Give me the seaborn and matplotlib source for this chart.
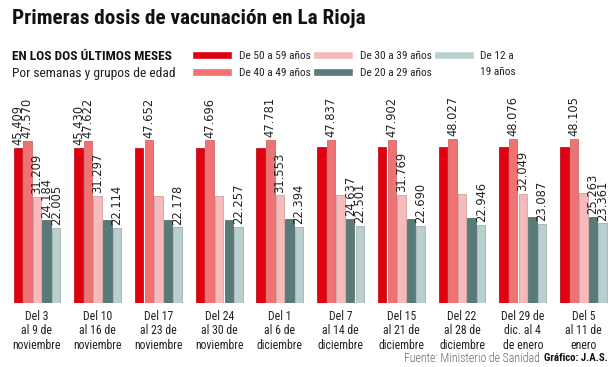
import pandas as pd
import numpy as np
import seaborn as sns
import matplotlib.pyplot as plt
import matplotlib.colors as mcolors

# datos
semanas = ['Del 3\nal 9 de\nnoviembre', 'Del 10\nal 16 de\nnoviembre', 'Del 17\nal 23 de\nnoviembre',
           'Del 24\nal 30 de\nnoviembre', 'Del 1\nal 6 de\ndiciembre', 'Del 7\nal 14 de\ndiciembre',
           'Del 15\nal 21 de\ndiciembre', 'Del 22\nal 28 de\ndiciembre', 'Del 29 de\ndic. al 4\nde enero',
           'Del 5\nal 11 de\nenero']
grupos = ['De 50 a 59 años', 'De 40 a 49 años', 'De 30 a 39 años', 'De 20 a 29 años', 'De 12 a']

edad_50_59 = [45409, 45430, 45460, 45500, 45550, 45600, 45650, 45700, 45760, 45800]
edad_40_49 = [47570, 47622, 47652, 47696, 47781, 47837, 47902, 48027, 48076, 48105]
edad_30_39 = [31209, 31297, 31400, 31460, 31553, 31650, 31769, 31900, 32049, 32150]
edad_20_29 = [24184, 24250, 24300, 24400, 24500, 24637, 24750, 24900, 25100, 25263]
edad_12_19 = [22005, 22114, 22178, 22257, 22394, 22501, 22690, 22946, 23087, 23361]

# que barras llevan etiqueta
etiq_50_59 = [1, 1, 0, 0, 0, 0, 0, 0, 0, 0]
etiq_40_49 = [1, 1, 1, 1, 1, 1, 1, 1, 1, 1]
etiq_30_39 = [1, 1, 0, 0, 1, 0, 1, 0, 1, 0]
etiq_20_29 = [1, 0, 0, 0, 0, 1, 0, 0, 0, 1]
etiq_12_19 = [1, 1, 1, 1, 1, 1, 1, 1, 1, 1]

colores = ['#e0000f', '#f07272', '#f7baba', '#587b79', '#b9d0cf']

series = [edad_50_59, edad_40_49, edad_30_39, edad_20_29, edad_12_19]
etiquetas = [etiq_50_59, etiq_40_49, etiq_30_39, etiq_20_29, etiq_12_19]

rows = []
for g, vals in zip(grupos, series):
    for s, v in zip(semanas, vals):
        rows.append({'semana': s, 'grupo': g, 'dosis': v})
df = pd.DataFrame(rows)

sns.set_style('white')
plt.rcParams['font.family'] = ['Roboto Condensed', 'DejaVu Sans']

fig = plt.figure(figsize=(6.14, 3.67), dpi=100)
ax = fig.add_axes([0.0108, 0.1744, 0.989, 0.567])

sns.barplot(data=df, x='semana', y='dosis', hue='grupo', palette=colores,
            order=semanas, hue_order=grupos, width=0.79, gap=0.12,
            saturation=1, ax=ax, legend=True)

for cont, col, vals, flags in zip(ax.containers, colores, series, etiquetas):
    dark = np.array(mcolors.to_rgb(col)) * 0.8
    for p in cont:
        p.set_edgecolor(dark)
        p.set_linewidth(0.5)
    labs = [f'{v:,}'.replace(',', '.') if f else '' for v, f in zip(vals, flags)]
    ax.bar_label(cont, labels=labs, rotation=90, padding=2, fontsize=8.3,
                 family='DejaVu Sans', color='#222222')

ax.set_xlim(-0.5, 9.5)
ax.set_ylim(0, 61000)
ax.set_xlabel('')
ax.set_ylabel('')
ax.set_yticks([])
sns.despine(ax=ax, left=True, bottom=True)
ax.tick_params(axis='x', length=0, pad=5)
for t in ax.get_xticklabels():
    t.set_fontsize(8.5)
    t.set_linespacing(1.15)
    t.set_color('#222222')

# leyenda
handles, labels = ax.get_legend_handles_labels()
ax.legend(handles, labels, ncol=3, loc='upper left', bbox_to_anchor=(192 / 614, 1 - 51 / 367),
          bbox_transform=fig.transFigure, frameon=False, fontsize=8.2, handlelength=3.5,
          handleheight=0.65, handletextpad=0.6, columnspacing=0.2, labelspacing=0.6,
          borderpad=0, borderaxespad=0)
fig.text(480 / 614, 1 - 72 / 367, '19 años', fontsize=8.2, va='center', ha='left', color='#222222')

# textos
fig.text(12 / 614, 1 - 9 / 367, 'Primeras dosis de vacunación en La Rioja', fontsize=15.3,
         fontweight='bold', va='top', ha='left', color='#111111')
fig.text(12 / 614, 1 - 56 / 367, 'EN LOS DOS ÚLTIMOS MESES', fontsize=9.6,
         fontweight='bold', va='center', ha='left', color='#111111')
fig.text(12 / 614, 1 - 74 / 367, 'Por semanas y grupos de edad', fontsize=9.7,
         va='center', ha='left', color='#222222')
fig.text(540 / 614, 1 - 358 / 367, 'Fuente: Ministerio de Sanidad', fontsize=8.6,
         fontweight='light', va='center', ha='right', color='#666666')
fig.text(608 / 614, 1 - 358 / 367, 'Gráfico: J.A.S.', fontsize=7.8, fontweight='bold',
         va='center', ha='right', color='#111111')

plt.savefig('out.png', dpi=100)
